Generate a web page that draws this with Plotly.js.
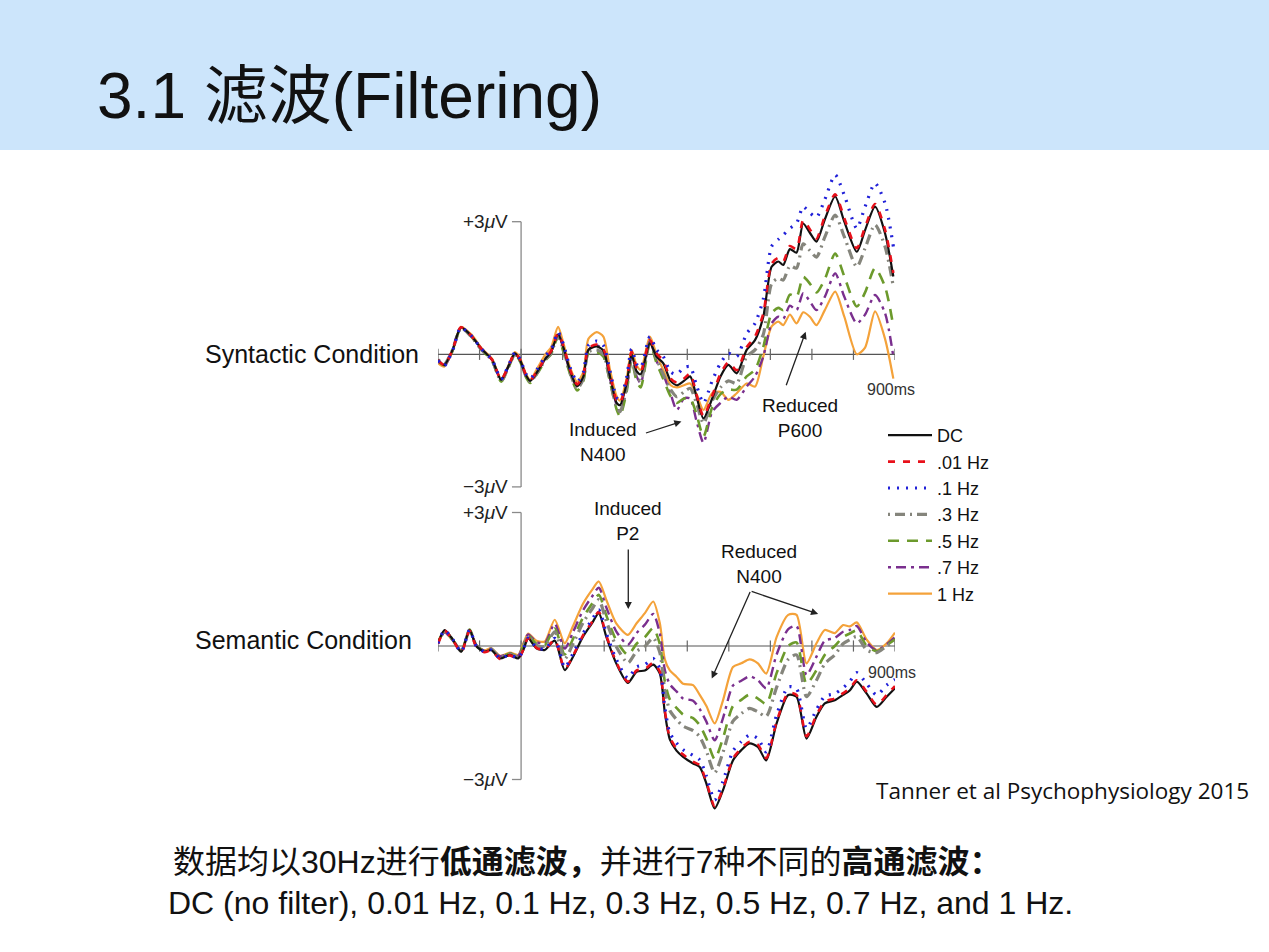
<!DOCTYPE html>
<html>
<head>
<meta charset="utf-8">
<script src="https://cdn.plot.ly/plotly-3.0.1.min.js"></script>
<style>
html,body{margin:0;padding:0;background:#fff;}
#chart{width:1269px;height:952px;}
</style>
</head>
<body>
<div id="chart"></div>
<script>
// ---------------- DATA ----------------
const seriesNames = ['DC', '.01 Hz', '.1 Hz', '.3 Hz', '.5 Hz', '.7 Hz', '1 Hz'];
const tickTimes = [-200, -100, 0, 100, 200, 300, 400, 500, 600, 700, 800, 900];

// Syntactic condition (ms, µV)
const timeSyn = [-200,-185,-165,-145,-120,-95,-70,-48,-28,-15,-3,12,22,40,60,72,89,102,118,135,150,162,182,198,214,230,238,254,266,278,288,310,326,342,360,375,392,407,422,439,460,480,499,519,543,563,583,603,619,631,647,663,679,695,711,731,756,778,808,828,852,876,896];
const synDC  = [-0.13,-0.24,0.10,0.61,0.42,0.12,-0.12,-0.58,-0.22,0.02,-0.12,-0.48,-0.60,-0.38,-0.08,0.05,0.45,0.15,-0.38,-0.72,-0.50,0.10,0.18,0.08,-0.50,-1.10,-1.15,-0.66,0.00,-0.38,-0.45,
                0.25,-0.05,-0.20,-0.60,-0.70,-0.60,-0.50,-0.95,-1.45,-1.00,-0.50,-0.24,-0.43,0.10,0.32,
                0.85,1.98,2.10,2.02,2.38,2.30,2.96,2.75,2.55,3.05,3.57,3.00,2.32,2.81,3.34,2.74,1.76];
const synF001 = [-0.13,-0.24,0.10,0.61,0.42,0.12,-0.12,-0.57,-0.21,0.03,-0.11,-0.47,-0.58,-0.36,-0.06,0.07,0.47,0.18,-0.35,-0.68,-0.46,0.14,0.22,0.12,-0.45,-1.05,-1.10,-0.60,0.06,-0.30,-0.40,
                0.32,0.02,-0.14,-0.55,-0.64,-0.55,-0.44,-0.90,-1.40,-0.94,-0.44,-0.18,-0.36,0.16,0.40,
                0.92,2.05,2.18,2.10,2.45,2.38,3.03,2.83,2.62,3.12,3.62,3.08,2.40,2.88,3.40,2.82,1.84];
const synF01 = [-0.14,-0.26,0.08,0.60,0.42,0.12,-0.12,-0.56,-0.20,0.04,-0.10,-0.45,-0.55,-0.32,-0.02,0.10,0.50,0.22,-0.30,-0.62,-0.40,0.20,0.30,0.20,-0.38,-0.98,-1.02,-0.52,0.12,-0.22,-0.30,
                0.40,0.10,-0.05,-0.40,-0.45,-0.30,-0.28,-0.70,-1.10,-0.60,-0.20,0.02,-0.05,0.47,0.70,
                1.25,2.44,2.60,2.70,2.85,2.96,3.34,3.20,3.10,3.50,4.06,3.60,2.85,3.34,3.87,3.42,2.44];
const synF03 = [-0.12,-0.22,0.10,0.60,0.40,0.10,-0.14,-0.60,-0.24,0.00,-0.14,-0.50,-0.62,-0.40,-0.10,0.02,0.42,0.10,-0.42,-0.78,-0.55,0.05,0.10,0.00,-0.58,-1.20,-1.30,-0.75,-0.08,-0.50,-0.60,
                0.28,-0.10,-0.45,-0.80,-0.96,-0.85,-0.77,-1.10,-1.56,-1.05,-0.75,-0.60,-0.66,-0.05,0.10,
                0.45,1.60,1.72,1.68,2.00,1.95,2.50,2.35,2.20,2.65,3.15,2.66,1.98,2.40,2.93,2.44,1.53];
const synF05 = [-0.14,-0.25,0.08,0.58,0.40,0.10,-0.15,-0.62,-0.25,0.00,-0.15,-0.52,-0.65,-0.42,-0.12,0.00,0.40,0.05,-0.45,-0.82,-0.60,0.02,0.05,-0.05,-0.62,-1.25,-1.40,-0.85,-0.15,-0.60,-0.75,
                0.25,-0.20,-0.55,-0.95,-1.10,-1.00,-1.00,-1.35,-1.86,-1.20,-0.90,-0.80,-0.80,-0.50,-0.35,
                0.17,0.93,1.05,1.00,1.35,1.30,1.75,1.60,1.40,1.70,2.28,1.76,1.08,1.40,1.95,1.53,0.63];
const synF07 = [-0.15,-0.26,0.08,0.60,0.42,0.12,-0.13,-0.58,-0.22,0.02,-0.13,-0.50,-0.62,-0.38,-0.08,0.05,0.48,0.12,-0.40,-0.75,-0.55,0.10,0.20,0.10,-0.55,-1.15,-1.30,-0.80,-0.05,-0.50,-0.65,
                0.30,-0.15,-0.45,-0.90,-1.26,-1.00,-1.00,-1.50,-2.00,-1.30,-1.10,-0.96,-1.03,-0.73,-0.50,
                -0.05,0.70,0.85,0.80,1.10,1.00,1.38,1.20,1.00,1.30,1.83,1.30,0.70,0.90,1.34,0.93,-0.05];
const synF1  = [-0.20,-0.28,0.08,0.62,0.45,0.14,-0.10,-0.55,-0.20,0.05,-0.08,-0.45,-0.58,-0.30,0.02,0.15,0.62,0.25,-0.30,-0.62,-0.40,0.35,0.50,0.40,-0.35,-0.95,-1.05,-0.55,0.10,-0.25,-0.35,
                0.40,0.00,-0.35,-0.70,-0.75,-0.70,-0.66,-0.90,-1.26,-0.88,-0.85,-1.03,-0.88,-0.66,-0.73,
                -0.05,0.63,0.74,0.66,0.90,0.70,0.95,0.85,0.66,1.00,1.42,0.85,0.00,0.15,0.97,0.35,-0.55];

// Semantic condition (ms, µV)
const timeSem = [-200,-184,-164,-144,-124,-108,-88,-72,-51,-27,-7,5,17,37,57,81,105,125,149,170,187,205,229,257,278,298,318,334,346,358,374,390,414,430,446,466,486,510,530,550,570,590,615,643,663,687,711,731,755,775,791,808,832,856,880,900];
const semDC  = [0.06,0.36,0.14,-0.13,0.36,0.00,-0.13,-0.09,-0.28,-0.20,-0.28,-0.10,0.17,-0.05,-0.09,0.12,-0.54,-0.24,0.21,0.50,0.74,0.21,-0.39,-0.83,-0.58,-0.55,-0.42,-0.62,-1.50,-2.10,-2.35,-2.49,-2.64,-2.72,-3.09,-3.65,-3.24,-2.57,-2.34,-2.19,-2.27,-2.57,-1.74,-1.10,-1.14,-2.08,-1.59,-1.29,-1.22,-1.10,-1.00,-0.80,-1.07,-1.37,-1.14,-0.95];
const semF001 = [0.05,0.34,0.13,-0.14,0.34,-0.01,-0.14,-0.10,-0.29,-0.21,-0.29,-0.09,0.18,-0.04,-0.08,0.14,-0.52,-0.22,0.24,0.53,0.77,0.24,-0.36,-0.80,-0.55,-0.52,-0.38,-0.58,-1.45,-2.05,-2.30,-2.44,-2.60,-2.68,-3.05,-3.60,-3.20,-2.53,-2.30,-2.15,-2.22,-2.52,-1.70,-1.06,-1.10,-2.03,-1.55,-1.25,-1.18,-1.06,-0.96,-0.77,-1.03,-1.32,-1.10,-0.90];
const semF01 = [0.06,0.35,0.14,-0.13,0.36,0.00,-0.13,-0.09,-0.27,-0.20,-0.27,-0.09,0.18,-0.03,-0.07,0.17,-0.48,-0.17,0.28,0.58,0.81,0.29,-0.30,-0.72,-0.47,-0.42,-0.28,-0.51,-1.38,-1.95,-2.18,-2.33,-2.46,-2.56,-2.92,-3.46,-3.04,-2.36,-2.15,-2.00,-2.08,-2.38,-1.55,-0.92,-0.96,-1.85,-1.43,-1.13,-1.07,-0.94,-0.80,-0.60,-0.85,-1.10,-0.88,-0.75];
const semF03 = [0.08,0.33,0.13,-0.12,0.35,0.01,-0.12,-0.07,-0.25,-0.18,-0.25,-0.04,0.22,0.02,-0.01,0.32,-0.29,0.05,0.52,0.82,1.04,0.56,-0.01,-0.38,-0.12,-0.01,0.18,-0.15,-1.00,-1.45,-1.65,-1.80,-1.90,-2.04,-2.36,-2.85,-2.39,-1.69,-1.52,-1.40,-1.48,-1.58,-0.93,-0.30,-0.20,-1.14,-0.77,-0.40,-0.20,0.05,0.14,0.21,-0.09,-0.15,0.00,0.10];
const semF05 = [0.08,0.33,0.13,-0.11,0.37,0.01,-0.11,-0.07,-0.25,-0.17,-0.23,-0.01,0.23,0.05,0.02,0.39,-0.19,0.16,0.64,0.94,1.15,0.69,0.13,-0.20,0.05,0.20,0.40,0.04,-0.80,-1.20,-1.39,-1.54,-1.62,-1.78,-2.08,-2.54,-2.07,-1.35,-1.21,-1.09,-1.18,-1.30,-0.61,0.00,0.08,-0.85,-0.54,-0.20,0.00,0.20,0.28,0.35,0.00,-0.12,0.02,0.15];
const semF07 = [0.09,0.31,0.12,-0.11,0.36,0.02,-0.11,-0.06,-0.23,-0.16,-0.22,0.02,0.26,0.09,0.06,0.50,-0.06,0.31,0.80,1.10,1.31,0.87,0.33,0.03,0.29,0.48,0.72,0.28,-0.54,-0.86,-1.02,-1.18,-1.23,-1.42,-1.70,-2.12,-1.62,-0.89,-0.78,-0.68,-0.77,-0.95,-0.19,0.38,0.45,-0.65,-0.24,0.12,0.18,0.32,0.36,0.45,0.08,-0.10,0.04,0.20];
const semF1  = [0.10,0.30,0.12,-0.10,0.36,0.02,-0.10,-0.05,-0.22,-0.15,-0.20,0.05,0.28,0.12,0.10,0.59,0.06,0.45,0.95,1.25,1.45,1.04,0.51,0.25,0.51,0.74,1.00,0.51,-0.30,-0.55,-0.69,-0.85,-0.88,-1.10,-1.35,-1.74,-1.22,-0.47,-0.39,-0.30,-0.39,-0.62,0.20,0.70,0.70,-0.39,0.06,0.36,0.29,0.47,0.44,0.53,0.14,-0.09,0.06,0.30];

const synSeries = [synDC, synF001, synF01, synF03, synF05, synF07, synF1];
const semSeries = [semDC, semF001, semF01, semF03, semF05, semF07, semF1];

// ---------------- STYLE ----------------
const W = 1269, H = 952;
const px = v => v / W;
const py = v => 1 - v / H;
const FONT = 'Liberation Sans, Arial, Helvetica, Noto Sans CJK SC, sans-serif';
const styles = [
  {color:'#111111', width:2.2, dash:'solid'},
  {color:'#e8101a', width:2.6, dash:'7px,8px'},
  {color:'#2020d8', width:3.2, dash:'2px,7px'},
  {color:'#85857c', width:3.2, dash:'2px,5px,10px,5px'},
  {color:'#6c9a2c', width:2.6, dash:'11px,8px'},
  {color:'#7a2f8e', width:2.4, dash:'3px,5px,10px,5px'},
  {color:'#f4a23a', width:2.2, dash:'solid'}
];
const drawOrder = [6, 5, 4, 3, 0, 1, 2];

const traces = [];
// axis tick marks on the zero lines
traces.push({x: tickTimes, y: tickTimes.map(() => 0), xaxis:'x', yaxis:'y', mode:'markers', showlegend:false, hoverinfo:'skip',
  marker:{symbol:'line-ns', size:8, color:'#666', line:{width:1.2, color:'#666'}}});
traces.push({x: tickTimes, y: tickTimes.map(() => 0), xaxis:'x2', yaxis:'y2', mode:'markers', showlegend:false, hoverinfo:'skip',
  marker:{symbol:'line-ns', size:8, color:'#666', line:{width:1.2, color:'#666'}}});

drawOrder.forEach(i => {
  const st = styles[i];
  traces.push({x: timeSyn, y: synSeries[i], xaxis:'x', yaxis:'y', mode:'lines', name: seriesNames[i],
    legendgroup: seriesNames[i], legendrank: i + 1, showlegend: true, hoverinfo:'skip',
    line:{color: st.color, width: st.width, dash: st.dash, shape:'spline', smoothing:0.7}});
  traces.push({x: timeSem, y: semSeries[i], xaxis:'x2', yaxis:'y2', mode:'lines', name: seriesNames[i],
    legendgroup: seriesNames[i], showlegend: false, hoverinfo:'skip',
    line:{color: st.color, width: st.width, dash: st.dash, shape:'spline', smoothing:0.7}});
});

const axLine = {color:'#555', width:1.2};
const axV = {color:'#8a8a8a', width:1.3};
function axisShapes(xr, yr) {
  return [
    {type:'line', xref:xr, yref:yr, x0:-200, x1:900, y0:0, y1:0, line:axLine, layer:'below'},
    {type:'line', xref:xr, yref:yr, x0:0, x1:0, y0:-3, y1:3, line:axV, layer:'below'},
    {type:'line', xref:xr, yref:yr, x0:-22, x1:0, y0:3, y1:3, line:axV, layer:'below'},
    {type:'line', xref:xr, yref:yr, x0:-22, x1:0, y0:-3, y1:-3, line:axV, layer:'below'}
  ];
}

const shapes = [
  {type:'rect', xref:'paper', yref:'paper', x0:0, x1:1, y0:py(150), y1:1, fillcolor:'#cce5fb', line:{width:0}, layer:'below'}
].concat(axisShapes('x','y'), axisShapes('x2','y2'));

const txt = (text, x, y, size, xanchor, extra) => Object.assign({
  text, x: px(x), y: py(y), xref:'paper', yref:'paper', xanchor: xanchor || 'center', yanchor:'middle',
  showarrow:false, font:{family:FONT, size, color:'#111'}
}, extra || {});

const arrow = (xr, yr, x, y, ax, ay) => ({
  text:'', xref:xr, yref:yr, x, y, ax, ay, showarrow:true, arrowhead:2, arrowsize:1.1, arrowwidth:1.3,
  arrowcolor:'#222', standoff:0, startstandoff:0
});

const tickLab = (text, xr, yr, yv) => ({text, xref:xr, yref:yr, x:-27, y:yv, xanchor:'right', yanchor:'middle',
  showarrow:false, font:{family:FONT, size:19, color:'#222'}});

const annotations = [
  txt('3.1 滤波(Filtering)', 95, 96, 64, 'left'),
  txt('Syntactic Condition', 421, 354, 25, 'right'),
  txt('Semantic Condition', 414, 640, 25, 'right'),
  tickLab('+3<i>μ</i>V', 'x', 'y', 3),
  tickLab('−3<i>μ</i>V', 'x', 'y', -3),
  tickLab('+3<i>μ</i>V', 'x2', 'y2', 3),
  tickLab('−3<i>μ</i>V', 'x2', 'y2', -3),
  txt('900ms', 891, 389, 16, 'center', {font:{family:FONT, size:16, color:'#333'}}),
  txt('900ms', 892, 672, 16, 'center', {font:{family:FONT, size:16, color:'#333'}}),
  txt('Induced<br>N400', 603, 442, 19),
  txt('Reduced<br>P600', 800, 418, 19),
  txt('Induced<br>P2', 628, 521, 19),
  txt('Reduced<br>N400', 759, 564, 19),
  arrow('x','y', 386, -1.52, -37, 12),
  arrow('x','y', 685, 0.51, -20, 55),
  arrow('x2','y2', 258, 0.83, 0, -61),
  arrow('x2','y2', 459, -0.73, 39, -88),
  arrow('x2','y2', 715, 0.72, -68, -23),
  txt('Tanner et al Psychophysiology 2015', 874, 790, 22.5, 'left', {font:{family:'Open Sans, Noto Sans, sans-serif', size:22.5, color:'#111'}}),
  txt('数据均以30Hz进行<b>低通滤波，</b>并进行7种不同的<b>高通滤波：</b>', 171, 862, 32, 'left'),
  txt('DC (no filter), 0.01 Hz, 0.1 Hz, 0.3 Hz, 0.5 Hz, 0.7 Hz, and 1 Hz.', 166, 903, 32, 'left')
];

const hidden = {visible:false, showgrid:false, zeroline:false, fixedrange:true};
const layout = {
  width: W, height: H,
  margin:{l:0, r:0, t:0, b:0},
  paper_bgcolor:'#ffffff', plot_bgcolor:'rgba(0,0,0,0)',
  xaxis: Object.assign({domain:[px(438), px(895)], range:[-200, 900], anchor:'y'}, hidden),
  yaxis: Object.assign({domain:[py(500), py(165)], range:[(354.3-500)/44.2, (354.3-165)/44.2], anchor:'x'}, hidden),
  xaxis2: Object.assign({domain:[px(438), px(895)], range:[-200, 900], anchor:'y2'}, hidden),
  yaxis2: Object.assign({domain:[py(815), py(500)], range:[(646-815)/44.5, (646-500)/44.5], anchor:'x2'}, hidden),
  showlegend: true,
  legend:{x: px(883), y: py(417), xanchor:'left', yanchor:'top', bgcolor:'rgba(0,0,0,0)',
    font:{family:FONT, size:18, color:'#111'}, tracegroupgap:0, itemwidth:44},
  shapes, annotations
};

Plotly.newPlot('chart', traces, layout, {staticPlot:true, displayModeBar:false});
</script>
</body>
</html>
